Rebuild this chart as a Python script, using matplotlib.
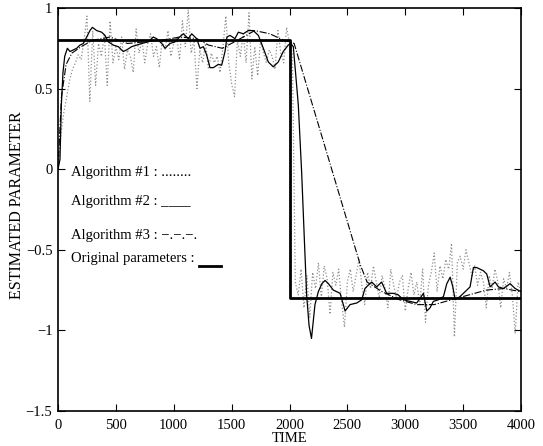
import matplotlib
matplotlib.use("Agg")
import matplotlib.pyplot as plt

plt.rcParams['font.family'] = ['Liberation Serif', 'DejaVu Serif']

# Original parameters (step)
orig_t = [0, 2000, 2000, 4000]
orig_v = [0.8, 0.8, -0.8, -0.8]

# Algorithm #1 (dotted, noisy), sampled every 25 time units
alg1_t = list(range(0, 4001, 25))
alg1_v = [
    0.00, 0.22, 0.35, 0.45, 0.55, 0.62, 0.66, 0.71, 0.68, 0.80,
    0.95, 0.42, 0.86, 0.52, 0.78, 0.70, 0.84, 0.52, 0.92, 0.66,
    0.76, 0.68, 0.82, 0.62, 0.74, 0.70, 0.60, 0.87, 0.72, 0.80,
    0.66, 0.78, 0.84, 0.70, 0.76, 0.63, 0.80, 0.74, 0.86, 0.70,
    0.78, 0.82, 0.68, 0.92, 0.76, 0.99, 0.72, 0.80, 0.50, 0.74,
    0.66, 0.78, 0.62, 0.72, 0.66, 0.70, 0.60, 0.76, 0.95, 0.66,
    0.53, 0.45, 0.80, 0.70, 0.84, 0.66, 0.97, 0.56, 0.76, 0.58,
    0.80, 0.72, 0.66, 0.74, 0.70, 0.62, 0.86, 0.72, 0.66, 0.88,
    0.78,
    0.72, -0.70, -0.78, -0.62, -0.86, -0.66, -0.92, -0.64, -0.74, -0.58,
    -0.80, -0.60, -0.68, -0.90, -0.64, -0.72, -0.62, -0.82, -0.98, -0.70,
    -0.62, -0.76, -0.66, -0.56, -0.72, -0.84, -0.64, -0.74, -0.60, -0.70,
    -0.80, -0.66, -0.74, -0.86, -0.62, -0.72, -0.80, -0.70, -0.66, -0.88,
    -0.74, -0.64, -0.78, -0.70, -0.84, -0.62, -0.95, -0.72, -0.64, -0.52,
    -0.76, -0.60, -0.68, -0.56, -0.62, -0.46, -1.04, -0.58, -0.54, -0.62,
    -0.50, -0.58, -0.66, -0.60, -0.72, -0.64, -0.70, -0.86, -0.66, -0.74,
    -0.62, -0.70, -0.86, -0.68, -0.74, -0.64, -0.78, -1.02, -0.70, -0.76,
]

# Algorithm #2 (solid)
alg2_t = [0, 17, 29, 43, 58, 81, 104, 132, 161, 190, 219, 248, 276, 297, 334,
          377, 406, 435, 478, 521, 564, 593, 636, 680, 723, 780, 823, 852, 896,
          925, 967, 1011, 1050, 1083, 1126, 1155, 1198, 1227, 1256, 1284, 1313,
          1342, 1385, 1414, 1443, 1460, 1486, 1529, 1558, 1601, 1644, 1687,
          1731, 1774, 1817, 1860, 1903, 1946, 1989, 2010, 2033, 2076, 2105,
          2128, 2148, 2169, 2190, 2220, 2249, 2280, 2307, 2336, 2379, 2437,
          2465, 2480, 2523, 2581, 2624, 2652, 2680, 2710, 2753, 2796, 2839,
          2897, 2940, 2984, 3041, 3099, 3157, 3186, 3214, 3243, 3286, 3330,
          3359, 3388, 3411, 3431, 3473, 3517, 3560, 3589, 3617, 3675, 3704,
          3733, 3776, 3805, 3848, 3906, 3949, 4000]
alg2_v = [0.0, 0.06, 0.40, 0.60, 0.70, 0.75, 0.73, 0.74, 0.75, 0.77, 0.78, 0.82,
          0.86, 0.88, 0.86, 0.85, 0.83, 0.79, 0.77, 0.76, 0.73, 0.74, 0.76, 0.77,
          0.78, 0.79, 0.82, 0.81, 0.78, 0.75, 0.78, 0.79, 0.82, 0.84, 0.81, 0.84,
          0.81, 0.75, 0.76, 0.71, 0.63, 0.63, 0.65, 0.645, 0.73, 0.82, 0.83,
          0.81, 0.85, 0.84, 0.86, 0.86, 0.83, 0.75, 0.665, 0.635, 0.665, 0.73,
          0.77, 0.78, 0.76, 0.40, -0.02, -0.43, -0.78, -0.97, -1.05, -0.84,
          -0.76, -0.71, -0.69, -0.71, -0.75, -0.77, -0.84, -0.88, -0.84, -0.83,
          -0.81, -0.74, -0.72, -0.70, -0.73, -0.70, -0.77, -0.77, -0.78, -0.81,
          -0.82, -0.83, -0.77, -0.88, -0.86, -0.82, -0.81, -0.79, -0.71, -0.67,
          -0.73, -0.81, -0.79, -0.76, -0.73, -0.61, -0.61, -0.63, -0.65, -0.73,
          -0.70, -0.73, -0.74, -0.71, -0.74, -0.76]

# Algorithm #3 (dash-dot)
alg3_t = [0, 30, 70, 120, 200, 300, 450, 600, 750, 900, 1050, 1200, 1300,
          1420, 1550, 1700, 1830, 1950, 2040, 2610, 2670, 2800, 2950, 3100,
          3250, 3400, 3550, 3700, 3850, 4000]
alg3_v = [0.0, 0.45, 0.65, 0.72, 0.76, 0.80, 0.82, 0.78, 0.79, 0.80, 0.82,
          0.81, 0.77, 0.75, 0.80, 0.86, 0.84, 0.80, 0.78, -0.59, -0.70, -0.76,
          -0.81, -0.84, -0.84, -0.81, -0.78, -0.75, -0.74, -0.76]

legend_texts = ['Algorithm #1 : ........', 'Algorithm #2 : ____',
                'Algorithm #3 : \u2212.\u2212.\u2212.', 'Original parameters : ']
legend_y = [-0.04, -0.225, -0.43, -0.575]

fig = plt.figure(figsize=(5.43, 4.46), dpi=100)
ax = fig.add_axes([58 / 543, 35 / 446, 463 / 543, 403 / 446])

ax.plot(alg1_t, alg1_v, ':', color='#8f8f8f', linewidth=0.9)
ax.plot(alg3_t, alg3_v, '-.', color='black', linewidth=0.8)
ax.plot(alg2_t, alg2_v, '-', color='black', linewidth=0.9)
ax.plot(orig_t, orig_v, '-', color='black', linewidth=2.0)

for txt, y in zip(legend_texts, legend_y):
    ax.text(110, y, txt, fontsize=10.5, va='baseline', ha='left')
# thick sample line next to "Original parameters :"
ax.plot([1215, 1406], [-0.60, -0.60], '-', color='black', linewidth=2.0)

ax.set_xlim(0, 4000)
ax.set_ylim(-1.5, 1)
ax.set_xticks(range(0, 4001, 500))
ax.set_yticks([-1.5, -1, -0.5, 0, 0.5, 1])
ax.set_yticklabels(['\u22121.5', '\u22121', '\u22120.5', '0', '0.5', '1'])
ax.tick_params(direction='in', top=True, right=True, length=5, labelsize=10.5)
ax.tick_params(axis='x', pad=6)
ax.tick_params(axis='y', pad=4)
for s in ax.spines.values():
    s.set_linewidth(1.2)
ax.set_xlabel('TIME', fontsize=10.5, labelpad=0)
ax.set_ylabel('ESTIMATED PARAMETER', fontsize=11.5)
ax.yaxis.set_label_coords(-0.072, 0.51)

fig.savefig('out.png', dpi=100)
